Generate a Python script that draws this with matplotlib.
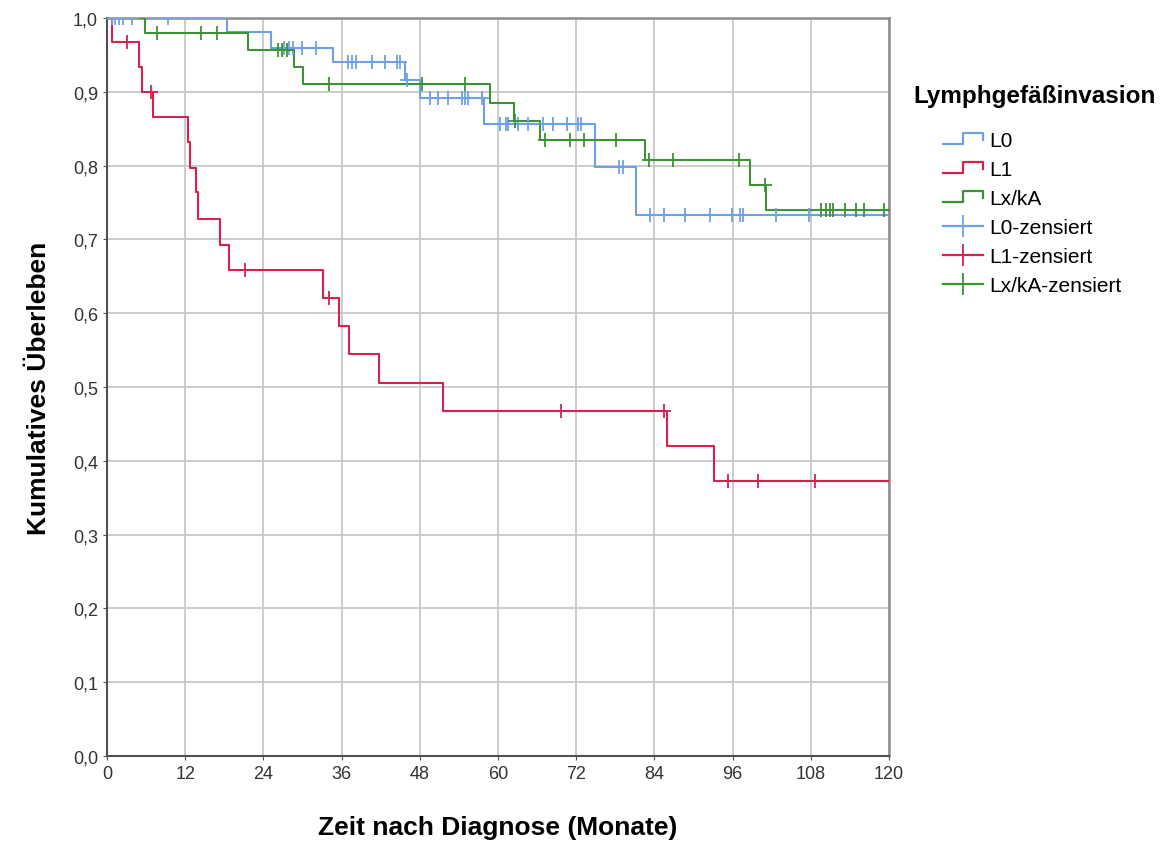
import numpy as np
import matplotlib.pyplot as plt
from matplotlib.lines import Line2D
from matplotlib.legend_handler import HandlerBase

plt.rcParams['font.family'] = ['Liberation Sans', 'DejaVu Sans']

# Kaplan-Meier curves: event times (months) and survival after each event
l0_times = [18.4, 25.1, 34.7, 45.8, 48.0, 57.8, 74.9, 81.1]
l0_surv = [0.981, 0.960, 0.941, 0.916, 0.891, 0.857, 0.798, 0.733]
l0_cens = [0.7, 1.2, 1.9, 2.4, 3.9, 9.4, 27.1, 28.0, 28.5, 29.9, 32.1, 37.0, 37.6,
           38.2, 40.6, 42.6, 44.5, 44.9, 46.1, 49.6, 50.8, 52.4, 54.4, 54.9, 55.4,
           57.5, 60.3, 61.3, 61.6, 63.1, 64.6, 66.9, 68.5, 70.6, 72.2, 72.7, 78.5,
           79.2, 83.4, 85.4, 88.7, 92.5, 95.9, 97.1, 97.6, 102.7, 107.8]

l1_times = [0.7, 4.9, 5.4, 7.1, 12.4, 12.7, 13.6, 13.9, 17.3, 18.7, 33.2, 35.6,
            37.1, 41.7, 51.5, 86.0, 93.1]
l1_surv = [0.967, 0.933, 0.900, 0.866, 0.832, 0.797, 0.764, 0.728, 0.693, 0.659,
           0.621, 0.583, 0.545, 0.506, 0.467, 0.420, 0.373]
l1_cens = [3.0, 6.7, 21.1, 34.1, 69.6, 85.4, 95.3, 99.9, 108.7]

lx_times = [5.9, 21.7, 28.7, 30.0, 58.8, 62.4, 66.5, 82.6, 98.7, 101.1]
lx_surv = [0.980, 0.957, 0.933, 0.911, 0.885, 0.860, 0.835, 0.807, 0.774, 0.740]
lx_cens = [7.6, 14.5, 16.9, 26.3, 26.8, 27.6, 34.0, 48.3, 54.9, 62.6, 67.2, 71.0,
           73.2, 78.1, 83.1, 86.8, 97.0, 101.0, 109.5, 110.4, 110.9, 111.4, 113.3,
           115.0, 116.1, 119.2]

groups = ['L0', 'L1', 'Lx/kA']
colors = ['#6ea0e6', '#d6204d', '#3c9234']
x_max = 120


def surv_at(times, surv, t):
    idx = np.searchsorted(times, t, side='right')
    levels = np.concatenate([[1.0], surv])
    return levels[idx]


class HandlerStep(HandlerBase):
    def create_artists(self, legend, orig_handle, xdescent, ydescent, width, height,
                       fontsize, trans):
        x0, x1 = -xdescent, -xdescent + width
        xm = x0 + 0.5 * width
        lo, hi = -ydescent + 0.15 * height, -ydescent + 0.95 * height
        line = Line2D([x0, xm, xm, x1, x1], [lo, lo, hi, hi, lo + 0.3 * height],
                      color=orig_handle.get_color(), lw=1.6)
        line.set_transform(trans)
        return [line]


fig = plt.figure(figsize=(11.66, 8.45), dpi=100)
ax = fig.add_axes([107 / 1166, 1 - 757 / 845, 782 / 1166, 738 / 845])

data = [(l0_times, l0_surv, l0_cens), (l1_times, l1_surv, l1_cens),
        (lx_times, lx_surv, lx_cens)]
step_handles, cens_handles = [], []
for (times, surv, cens), name, c in zip(data, groups, colors):
    xs = [0] + times + [x_max]
    ys = [1.0] + surv + [surv[-1]]
    h, = ax.plot(xs, ys, drawstyle='steps-post', color=c, lw=1.5, zorder=3)
    cy = surv_at(np.array(times), np.array(surv), np.array(cens))
    ax.plot(cens, cy, ls='none', marker='+', ms=10, mew=1.3, color=c, zorder=4)
    step_handles.append(h)
    cens_handles.append(Line2D([], [], color=c, lw=1.6, marker='+', ms=16, mew=1.3))

ax.set_xlim(0, 120)
ax.set_ylim(0, 1.0)
ax.set_xticks(np.arange(0, 121, 12))
ax.set_yticks(np.arange(0, 1.01, 0.1))
ax.set_yticklabels([f'{v:.1f}'.replace('.', ',') for v in np.arange(0, 1.01, 0.1)])
ax.tick_params(labelsize=13, labelcolor='#333333', length=3, color='#555555')
ax.grid(True, color='#c8c8c8', lw=1.3)
ax.set_axisbelow(True)
for s in ['left', 'bottom']:
    ax.spines[s].set_color('#505050')
    ax.spines[s].set_linewidth(1.5)
for s in ['top', 'right']:
    ax.spines[s].set_color('#8c8c8c')
    ax.spines[s].set_linewidth(1.8)

ax.set_xlabel('Zeit nach Diagnose (Monate)', fontsize=19, fontweight='bold', labelpad=24)
ax.set_ylabel('Kumulatives Überleben', fontsize=19, fontweight='bold', labelpad=16)

fig.text(913 / 1166, 1 - 97 / 845, 'Lymphgefäßinvasion', fontsize=17.5,
         fontweight='bold', va='center', ha='left')
labels = groups + [g + '-zensiert' for g in groups]
fig.legend(step_handles + cens_handles, labels,
           handler_map={h: HandlerStep() for h in step_handles},
           loc='upper left', bbox_to_anchor=(933 / 1166, 1 - 122 / 845),
           frameon=False, fontsize=15, handlelength=1.9, handletextpad=0.3,
           labelspacing=0.48, borderpad=0)

fig.savefig('out.png', dpi=100)
